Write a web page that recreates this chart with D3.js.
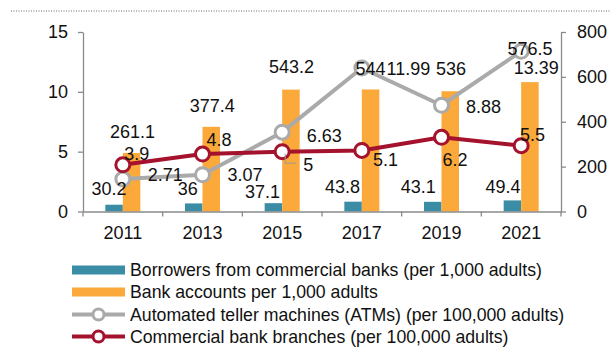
<!DOCTYPE html>
<html>
<head>
<meta charset="utf-8">
<script src="https://cdn.jsdelivr.net/npm/d3@7/dist/d3.min.js"></script>
<style>
  html, body { margin: 0; padding: 0; background: #fff; }
  svg { display: block; font-family: "Liberation Sans", Arial, sans-serif; }
</style>
</head>
<body>
<svg id="chart" width="610" height="348"></svg>
<script>
// ---- data ----
const years = ["2011", "2013", "2015", "2017", "2019", "2021"];
const borrowers = [30.2, 36, 37.1, 43.8, 43.1, 49.4];          // right axis
const accounts = [261.1, 377.4, 543.2, 544, 536, 576.5];       // right axis
const atms = [2.71, 3.07, 6.63, 11.99, 8.88, 13.39];            // left axis
const branches = [3.9, 4.8, 5, 5.1, 6.2, 5.5];                  // left axis
const leftTicks = [0, 5, 10, 15];
const rightTicks = [0, 200, 400, 600, 800];
const legendLabels = [
  "Borrowers from commercial banks (per 1,000 adults)",
  "Bank accounts per 1,000 adults",
  "Automated teller machines (ATMs) (per 100,000 adults)",
  "Commercial bank branches (per 100,000 adults)"
];

// label offsets (text centre x offset, baseline y offset) relative to marks
const borrowersLabelOff = [[-5, -10], [-6, -8.5], [-11, -5.5], [-10.5, -8.5], [-14.5, -8.5], [-9.5, -7.7]];
const accountsLabelOff = [[1, -15], [1, -15], [0.5, -17], [0, -14.5], [0.7, -16], [0, -27]];
const atmsLabelOff = [[42.5, 1.6], [42.5, 6], [42, 9.5], [46.5, 7], [42, 7.5], [15, 22.5]];
const branchesLabelOff = [[14, -4.8], [16.5, -8], [26, 19], [23.7, 15.5], [13.5, 28.7], [11.3, -5]];

// ---- style ----
const C_BLUE = "#3a8da4", C_ORANGE = "#fba93b", C_GRAY = "#aaaaaa", C_RED = "#a5122d";
const AXIS = "#8a8a8a";
const FS = 18, FS_LEG = 17.7;

const svg = d3.select("#chart");
const L = 83, R = 561, T = 32, B = 211.5;

const x = d3.scaleBand().domain(years).range([L, R]).paddingInner(0).paddingOuter(0);
const barW = 17.5;
const xs = d3.scaleBand().domain(["b", "a"]).range([0, barW * 2]);
const yL = d3.scaleLinear().domain([0, 15]).range([B, T]);
const yR = d3.scaleLinear().domain([0, 800]).range([B, T]);
const cx = d => x(d) + x.bandwidth() / 2;
const groupOff = (x.bandwidth() - barW * 2) / 2;

// top dotted rule
svg.append("line").attr("x1", 11).attr("x2", 610).attr("y1", 11).attr("y2", 11)
  .attr("stroke", "#666").attr("stroke-width", 1).attr("stroke-dasharray", "1 1.5");

// bars
svg.append("g").selectAll("rect").data(years).join("rect")
  .attr("x", d => x(d) + groupOff + xs("b"))
  .attr("width", xs.bandwidth())
  .attr("y", (d, i) => yR(borrowers[i]))
  .attr("height", (d, i) => B - yR(borrowers[i]))
  .attr("fill", C_BLUE);
svg.append("g").selectAll("rect").data(years).join("rect")
  .attr("x", d => x(d) + groupOff + xs("a"))
  .attr("width", xs.bandwidth())
  .attr("y", (d, i) => yR(accounts[i]))
  .attr("height", (d, i) => B - yR(accounts[i]))
  .attr("fill", C_ORANGE);

// axes
function styleAxis(g) {
  g.selectAll("path.domain").attr("stroke", AXIS).attr("stroke-width", 1.3);
  g.selectAll(".tick line").attr("stroke", AXIS).attr("stroke-width", 1.3);
  g.selectAll(".tick text").attr("fill", "#111").attr("font-size", FS)
    .attr("font-family", "'Liberation Sans', Arial, sans-serif");
}
svg.append("g").attr("transform", `translate(${L},0)`)
  .call(d3.axisLeft(yL).tickValues(leftTicks).tickSize(5).tickSizeOuter(0).tickPadding(10))
  .call(styleAxis);
svg.append("g").attr("transform", `translate(${R},0)`)
  .call(d3.axisRight(yR).tickValues(rightTicks).tickSize(5).tickSizeOuter(0).tickPadding(11))
  .call(styleAxis);
const xAxis = svg.append("g").attr("transform", `translate(0,${B})`)
  .call(d3.axisBottom(x).tickSize(0).tickSizeOuter(0).tickPadding(15))
  .call(styleAxis);
// category boundary ticks
const bounds = years.map(d => x(d)).concat([x(years[years.length - 1]) + x.bandwidth()]);
xAxis.selectAll("line.bound").data(bounds).join("line").attr("class", "bound")
  .attr("x1", d => d).attr("x2", d => d).attr("y1", 0).attr("y2", 5)
  .attr("stroke", AXIS).attr("stroke-width", 1.3);

// lines
function drawLine(vals, color) {
  const line = d3.line().x((d, i) => cx(years[i])).y(d => yL(d));
  svg.append("path").datum(vals).attr("d", line)
    .attr("fill", "none").attr("stroke", color).attr("stroke-width", 4)
    .attr("stroke-linejoin", "round");
  svg.append("g").selectAll("circle").data(vals).join("circle")
    .attr("cx", (d, i) => cx(years[i])).attr("cy", d => yL(d)).attr("r", 7)
    .attr("fill", "#fff").attr("stroke", color).attr("stroke-width", 3);
}
drawLine(atms, C_GRAY);
drawLine(branches, C_RED);

// leader line for the 2015 branches label
{
  const px = cx(years[2]) + 3, py = yL(branches[2]);
  svg.append("path")
    .attr("d", `M${px},${py + 2}V${py + 11.5}H${px + 11}`)
    .attr("fill", "none").attr("stroke", "#999").attr("stroke-width", 1);
}

// data labels
function labels(vals, offs, xf, yf) {
  svg.append("g").selectAll("text").data(vals).join("text")
    .attr("x", (d, i) => xf(i) + offs[i][0])
    .attr("y", (d, i) => yf(d) + offs[i][1])
    .attr("text-anchor", "middle").attr("font-size", FS).attr("fill", "#111")
    .text(d => d);
}
labels(borrowers, borrowersLabelOff, i => x(years[i]) + groupOff + xs("b") + xs.bandwidth() / 2, d => yR(d));
labels(accounts, accountsLabelOff, i => x(years[i]) + groupOff + xs("a") + xs.bandwidth() / 2, d => yR(d));
labels(atms, atmsLabelOff, i => cx(years[i]), d => yL(d));
labels(branches, branchesLabelOff, i => cx(years[i]), d => yL(d));

// legend
const legY = [270, 292, 314.5, 336.5];
const lg = svg.append("g");
const lx0 = 72, lx1 = 125, ltx = 130;
[C_BLUE, C_ORANGE].forEach((c, i) => {
  lg.append("rect").attr("x", lx0).attr("y", legY[i] - 4.5).attr("width", lx1 - lx0).attr("height", 9).attr("fill", c);
});
[C_GRAY, C_RED].forEach((c, j) => {
  const yy = legY[j + 2];
  lg.append("line").attr("x1", lx0).attr("x2", lx1).attr("y1", yy).attr("y2", yy)
    .attr("stroke", c).attr("stroke-width", 4);
  lg.append("circle").attr("cx", (lx0 + lx1) / 2).attr("cy", yy).attr("r", 5.5)
    .attr("fill", "#fff").attr("stroke", c).attr("stroke-width", 3);
});
lg.selectAll("text").data(legendLabels).join("text")
  .attr("x", ltx).attr("y", (d, i) => legY[i]).attr("dy", "0.35em")
  .attr("font-size", FS_LEG).attr("fill", "#111").text(d => d);
</script>
</body>
</html>
